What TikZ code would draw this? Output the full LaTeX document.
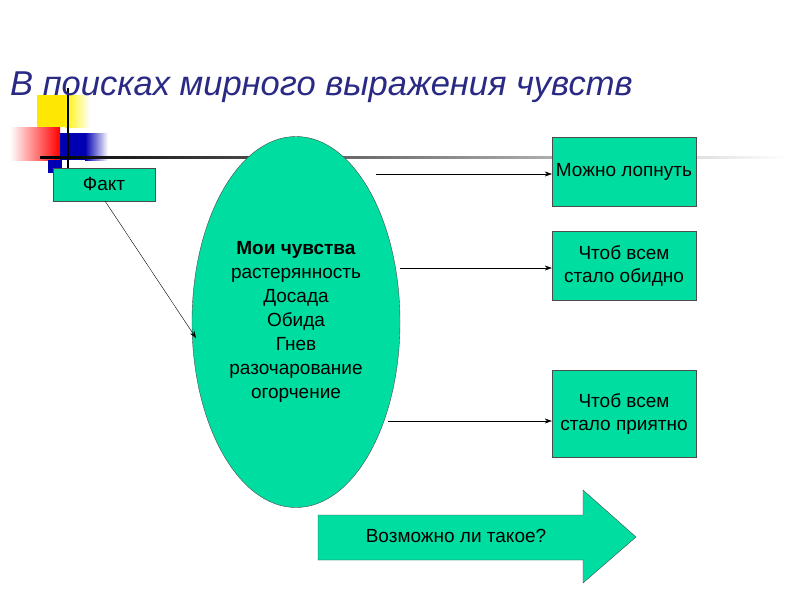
\documentclass[tikz,border=0pt]{standalone}
\usepackage{fontspec}
\setmainfont{Liberation Sans}
\usetikzlibrary{arrows.meta,shapes.geometric}
\definecolor{fillg}{HTML}{00DDA0}
\definecolor{ttl}{HTML}{2A2A85}
\begin{document}
\begin{tikzpicture}[x=1pt,y=-1pt,
  box/.style={draw=black!70,fill=fillg,minimum width=144pt,minimum height=69pt,align=center,font=\fontsize{19}{23}\selectfont,inner sep=0pt},
  arr/.style={-{Stealth[length=7pt,width=5pt]},black}]
\useasboundingbox (0,0) rectangle (800,600);
\fill[white] (0,0) rectangle (800,600);
% decoration
\fill[yellow!90!orange] (37,95) rectangle (65,127);
\shade[left color=yellow!90!orange,right color=white] (65,95) rectangle (90,127);
\shade[left color=white,right color=red] (10,127) rectangle (60,160);
\fill[blue!70!black] (60,133) rectangle (85,160);
\shade[left color=blue!70!black,right color=white] (85,133) rectangle (108,160);
\fill[blue!70!black] (48,160) rectangle (62,173);
\draw[line width=1.5pt] (68,88) -- (68,168);
\shade[left color=black,right color=white] (40,156) rectangle (790,158.5);
\node[anchor=base west,font=\itshape\fontsize{34.5}{40}\selectfont,text=ttl,inner sep=0pt] (title) at (10,95) {В поисках мирного выражения чувств};
% nodes
\node[box,minimum width=102pt,minimum height=33pt] (fakt) at (104,184.5) {Факт};
\node[ellipse,draw=black!70,fill=fillg,minimum width=208pt,minimum height=371pt,inner sep=0pt] (ell) at (296,322) {};
\node[align=center,font=\fontsize{19}{24}\selectfont] (feel) at (296,322) {\textbf{Мои чувства}\\растерянность\\Досада\\Обида\\Гнев\\разочарование\\огорчение};
\node[box] (b1) at (624,171.5) {Можно лопнуть};
\node[box] (b2) at (624,265.5) {Чтоб всем\\стало обидно};
\node[box,minimum height=87pt] (b3) at (624,413.5) {Чтоб всем\\стало приятно};
\coordinate (s1) at (376,174);
\coordinate (s2) at (400,268);
\coordinate (s3) at (388,421);
\draw[arr] (s1) -- (s1 -| b1.west);
\draw[arr] (s2) -- (s2 -| b2.west);
\draw[arr] (s3) -- (s3 -| b3.west);
\coordinate (fe) at (196,338);
\draw[arr] (105,201) -- (fe);
% big arrow
\draw[black!70,fill=fillg] (318,515) -- (583,515) -- (583,490) -- (636,537) -- (583,583) -- (583,560) -- (318,560) -- cycle;
\node[font=\fontsize{19}{23}\selectfont] (q) at (456,536) {Возможно ли такое?};
\end{tikzpicture}
\end{document}
